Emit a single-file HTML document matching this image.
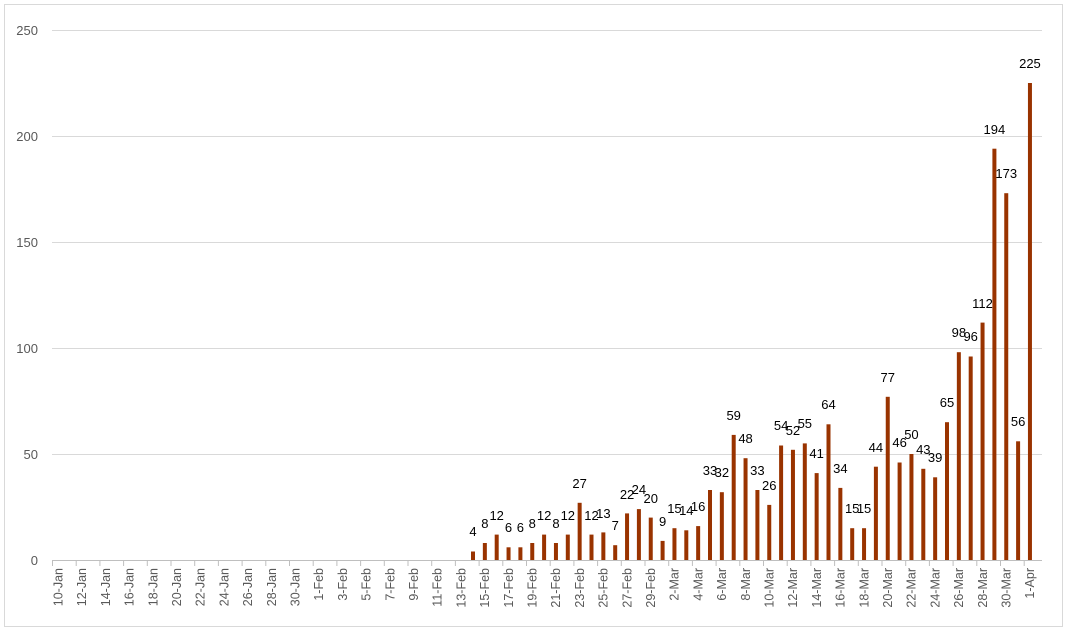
<!DOCTYPE html>
<html><head><style>body{margin:0;background:#fff}svg{display:block}</style></head><body>
<svg width="1067" height="631" xmlns="http://www.w3.org/2000/svg" font-family="Liberation Sans, Arial, sans-serif">
<rect x="0" y="0" width="1067" height="631" fill="#fff"/>
<rect x="4.5" y="4.5" width="1058" height="622" fill="none" stroke="#d9d9d9"/>
<g stroke="#d9d9d9" stroke-width="1">
<line x1="52" x2="1042" y1="454.5" y2="454.5"/><line x1="52" x2="1042" y1="348.5" y2="348.5"/><line x1="52" x2="1042" y1="242.5" y2="242.5"/><line x1="52" x2="1042" y1="136.5" y2="136.5"/><line x1="52" x2="1042" y1="30.5" y2="30.5"/>
<line x1="52" x2="1042" y1="560.5" y2="560.5" stroke="#bfbfbf"/>
</g>
<g stroke="#bfbfbf" stroke-width="1">
<line x1="52.5" x2="52.5" y1="560" y2="566"/><line x1="76.2" x2="76.2" y1="560" y2="566"/><line x1="99.9" x2="99.9" y1="560" y2="566"/><line x1="123.6" x2="123.6" y1="560" y2="566"/><line x1="147.3" x2="147.3" y1="560" y2="566"/><line x1="171" x2="171" y1="560" y2="566"/><line x1="194.7" x2="194.7" y1="560" y2="566"/><line x1="218.4" x2="218.4" y1="560" y2="566"/><line x1="242.1" x2="242.1" y1="560" y2="566"/><line x1="265.8" x2="265.8" y1="560" y2="566"/><line x1="289.5" x2="289.5" y1="560" y2="566"/><line x1="313.2" x2="313.2" y1="560" y2="566"/><line x1="336.9" x2="336.9" y1="560" y2="566"/><line x1="360.6" x2="360.6" y1="560" y2="566"/><line x1="384.3" x2="384.3" y1="560" y2="566"/><line x1="408" x2="408" y1="560" y2="566"/><line x1="431.7" x2="431.7" y1="560" y2="566"/><line x1="455.4" x2="455.4" y1="560" y2="566"/><line x1="479.1" x2="479.1" y1="560" y2="566"/><line x1="502.8" x2="502.8" y1="560" y2="566"/><line x1="526.5" x2="526.5" y1="560" y2="566"/><line x1="550.2" x2="550.2" y1="560" y2="566"/><line x1="573.9" x2="573.9" y1="560" y2="566"/><line x1="597.6" x2="597.6" y1="560" y2="566"/><line x1="621.3" x2="621.3" y1="560" y2="566"/><line x1="645" x2="645" y1="560" y2="566"/><line x1="668.7" x2="668.7" y1="560" y2="566"/><line x1="692.4" x2="692.4" y1="560" y2="566"/><line x1="716.1" x2="716.1" y1="560" y2="566"/><line x1="739.8" x2="739.8" y1="560" y2="566"/><line x1="763.5" x2="763.5" y1="560" y2="566"/><line x1="787.2" x2="787.2" y1="560" y2="566"/><line x1="810.9" x2="810.9" y1="560" y2="566"/><line x1="834.6" x2="834.6" y1="560" y2="566"/><line x1="858.3" x2="858.3" y1="560" y2="566"/><line x1="882" x2="882" y1="560" y2="566"/><line x1="905.7" x2="905.7" y1="560" y2="566"/><line x1="929.4" x2="929.4" y1="560" y2="566"/><line x1="953.1" x2="953.1" y1="560" y2="566"/><line x1="976.8" x2="976.8" y1="560" y2="566"/><line x1="1000.5" x2="1000.5" y1="560" y2="566"/><line x1="1024.2" x2="1024.2" y1="560" y2="566"/>
</g>
<g font-size="13" fill="#595959" text-anchor="end">
<text x="38" y="565">0</text><text x="38" y="459">50</text><text x="38" y="353">100</text><text x="38" y="247">150</text><text x="38" y="141">200</text><text x="38" y="35">250</text>
</g>
<g fill="#993300">
<rect x="471" y="551.5" width="4" height="8.5"/><rect x="482.85" y="543" width="4" height="17"/><rect x="494.7" y="534.6" width="4" height="25.4"/><rect x="506.55" y="547.3" width="4" height="12.7"/><rect x="518.4" y="547.3" width="4" height="12.7"/><rect x="530.25" y="543" width="4" height="17"/><rect x="542.1" y="534.6" width="4" height="25.4"/><rect x="553.95" y="543" width="4" height="17"/><rect x="565.8" y="534.6" width="4" height="25.4"/><rect x="577.65" y="502.8" width="4" height="57.2"/><rect x="589.5" y="534.6" width="4" height="25.4"/><rect x="601.35" y="532.4" width="4" height="27.6"/><rect x="613.2" y="545.2" width="4" height="14.8"/><rect x="625.05" y="513.4" width="4" height="46.6"/><rect x="636.9" y="509.1" width="4" height="50.9"/><rect x="648.75" y="517.6" width="4" height="42.4"/><rect x="660.6" y="540.9" width="4" height="19.1"/><rect x="672.45" y="528.2" width="4" height="31.8"/><rect x="684.3" y="530.3" width="4" height="29.7"/><rect x="696.15" y="526.1" width="4" height="33.9"/><rect x="708" y="490" width="4" height="70"/><rect x="719.85" y="492.2" width="4" height="67.8"/><rect x="731.7" y="434.9" width="4" height="125.1"/><rect x="743.55" y="458.2" width="4" height="101.8"/><rect x="755.4" y="490" width="4" height="70"/><rect x="767.25" y="504.9" width="4" height="55.1"/><rect x="779.1" y="445.5" width="4" height="114.5"/><rect x="790.95" y="449.8" width="4" height="110.2"/><rect x="802.8" y="443.4" width="4" height="116.6"/><rect x="814.65" y="473.1" width="4" height="86.9"/><rect x="826.5" y="424.3" width="4" height="135.7"/><rect x="838.35" y="487.9" width="4" height="72.1"/><rect x="850.2" y="528.2" width="4" height="31.8"/><rect x="862.05" y="528.2" width="4" height="31.8"/><rect x="873.9" y="466.7" width="4" height="93.3"/><rect x="885.75" y="396.8" width="4" height="163.2"/><rect x="897.6" y="462.5" width="4" height="97.5"/><rect x="909.45" y="454" width="4" height="106"/><rect x="921.3" y="468.8" width="4" height="91.2"/><rect x="933.15" y="477.3" width="4" height="82.7"/><rect x="945" y="422.2" width="4" height="137.8"/><rect x="956.85" y="352.2" width="4" height="207.8"/><rect x="968.7" y="356.5" width="4" height="203.5"/><rect x="980.55" y="322.6" width="4" height="237.4"/><rect x="992.4" y="148.7" width="4" height="411.3"/><rect x="1004.25" y="193.2" width="4" height="366.8"/><rect x="1016.1" y="441.3" width="4" height="118.7"/><rect x="1027.95" y="83" width="4" height="477"/>
</g>
<g font-size="13" fill="#000" text-anchor="middle">
<text x="473" y="536">4</text><text x="484.85" y="528">8</text><text x="496.7" y="520">12</text><text x="508.55" y="532">6</text><text x="520.4" y="532">6</text><text x="532.25" y="528">8</text><text x="544.1" y="520">12</text><text x="555.95" y="528">8</text><text x="567.8" y="520">12</text><text x="579.65" y="488">27</text><text x="591.5" y="520">12</text><text x="603.35" y="518">13</text><text x="615.2" y="530">7</text><text x="627.05" y="499">22</text><text x="638.9" y="494">24</text><text x="650.75" y="503">20</text><text x="662.6" y="526">9</text><text x="674.45" y="513">15</text><text x="686.3" y="515">14</text><text x="698.15" y="511">16</text><text x="710" y="475">33</text><text x="721.85" y="477">32</text><text x="733.7" y="420">59</text><text x="745.55" y="443">48</text><text x="757.4" y="475">33</text><text x="769.25" y="490">26</text><text x="781.1" y="430">54</text><text x="792.95" y="435">52</text><text x="804.8" y="428">55</text><text x="816.65" y="458">41</text><text x="828.5" y="409">64</text><text x="840.35" y="473">34</text><text x="852.2" y="513">15</text><text x="864.05" y="513">15</text><text x="875.9" y="452">44</text><text x="887.75" y="382">77</text><text x="899.6" y="447">46</text><text x="911.45" y="439">50</text><text x="923.3" y="454">43</text><text x="935.15" y="462">39</text><text x="947" y="407">65</text><text x="958.85" y="337">98</text><text x="970.7" y="341">96</text><text x="982.55" y="308">112</text><text x="994.4" y="134">194</text><text x="1006.25" y="178">173</text><text x="1018.1" y="426">56</text><text x="1029.95" y="68">225</text>
</g>
<g font-size="12.5" fill="#595959" text-anchor="end">
<text transform="translate(62.5,568) rotate(-90)">10-Jan</text><text transform="translate(86.2,568) rotate(-90)">12-Jan</text><text transform="translate(109.9,568) rotate(-90)">14-Jan</text><text transform="translate(133.6,568) rotate(-90)">16-Jan</text><text transform="translate(157.3,568) rotate(-90)">18-Jan</text><text transform="translate(181,568) rotate(-90)">20-Jan</text><text transform="translate(204.7,568) rotate(-90)">22-Jan</text><text transform="translate(228.4,568) rotate(-90)">24-Jan</text><text transform="translate(252.1,568) rotate(-90)">26-Jan</text><text transform="translate(275.8,568) rotate(-90)">28-Jan</text><text transform="translate(299.5,568) rotate(-90)">30-Jan</text><text transform="translate(323.2,568) rotate(-90)">1-Feb</text><text transform="translate(346.9,568) rotate(-90)">3-Feb</text><text transform="translate(370.6,568) rotate(-90)">5-Feb</text><text transform="translate(394.3,568) rotate(-90)">7-Feb</text><text transform="translate(418,568) rotate(-90)">9-Feb</text><text transform="translate(441.7,568) rotate(-90)">11-Feb</text><text transform="translate(465.4,568) rotate(-90)">13-Feb</text><text transform="translate(489.1,568) rotate(-90)">15-Feb</text><text transform="translate(512.8,568) rotate(-90)">17-Feb</text><text transform="translate(536.5,568) rotate(-90)">19-Feb</text><text transform="translate(560.2,568) rotate(-90)">21-Feb</text><text transform="translate(583.9,568) rotate(-90)">23-Feb</text><text transform="translate(607.6,568) rotate(-90)">25-Feb</text><text transform="translate(631.3,568) rotate(-90)">27-Feb</text><text transform="translate(655,568) rotate(-90)">29-Feb</text><text transform="translate(678.7,568) rotate(-90)">2-Mar</text><text transform="translate(702.4,568) rotate(-90)">4-Mar</text><text transform="translate(726.1,568) rotate(-90)">6-Mar</text><text transform="translate(749.8,568) rotate(-90)">8-Mar</text><text transform="translate(773.5,568) rotate(-90)">10-Mar</text><text transform="translate(797.2,568) rotate(-90)">12-Mar</text><text transform="translate(820.9,568) rotate(-90)">14-Mar</text><text transform="translate(844.6,568) rotate(-90)">16-Mar</text><text transform="translate(868.3,568) rotate(-90)">18-Mar</text><text transform="translate(892,568) rotate(-90)">20-Mar</text><text transform="translate(915.7,568) rotate(-90)">22-Mar</text><text transform="translate(939.4,568) rotate(-90)">24-Mar</text><text transform="translate(963.1,568) rotate(-90)">26-Mar</text><text transform="translate(986.8,568) rotate(-90)">28-Mar</text><text transform="translate(1010.5,568) rotate(-90)">30-Mar</text><text transform="translate(1034.2,568) rotate(-90)">1-Apr</text>
</g>
</svg>
</body></html>
